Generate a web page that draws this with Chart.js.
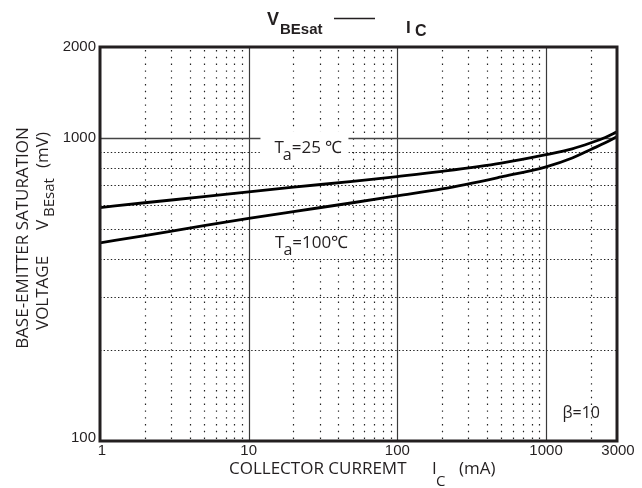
<!DOCTYPE html>
<html>
<head>
<meta charset="utf-8">
<script src="https://cdn.jsdelivr.net/npm/chart.js@4.4.1/dist/chart.umd.min.js"></script>
<style>
html, body { margin: 0; padding: 0; background: #fff; }
</style>
</head>
<body>
<canvas id="myChart" width="642" height="488"></canvas>
<script>
// collector current (mA) and VBE(sat) (mV)
const currentMA = [1, 2, 5, 10, 20, 50, 100, 200, 500, 1000, 1500, 2000, 2500, 3000];
const vbe25 = [590, 612, 641, 665, 689, 720, 747, 777, 827, 882, 922, 965, 1005, 1049];
const vbe100 = [451, 477, 514, 543, 572, 612, 645, 680, 745, 804, 860, 918, 965, 1012];

const xTicks = [1, 10, 100, 1000, 3000];
const xTickLabels = ['1', '10', '100', '1000', '3000'];
const yTicks = [2000, 1000, 100];
const yTickLabels = ['2000', '1000', '100'];

const xMajor = [10, 100, 1000];
const xMinor = [2, 3, 4, 5, 6, 7, 8, 9, 20, 30, 40, 50, 60, 70, 80, 90,
                200, 300, 400, 500, 600, 700, 800, 900, 2000];
const yMajor = [1000];
const yMinor = [200, 300, 400, 500, 600, 700, 800, 900];

function toPoints(ys){
    let pts = [];
    for (let i = 0; i < currentMA.length; i++){
        pts.push({x: currentMA[i], y: ys[i]});
    }
    return pts;
}

const ink = '#231f20';

function labelBox(ctx, x1, y1, x2, y2){
    ctx.fillStyle = '#fff';
    ctx.fillRect(x1, y1, x2 - x1, y2 - y1);
}

// "T" with subscript "a" followed by rest of text
function drawTa(ctx, x, y, rest){
    ctx.fillStyle = ink;
    ctx.textBaseline = 'alphabetic';
    ctx.textAlign = 'left';
    ctx.font = '17px "Open Sans"';
    ctx.fillText('T', x, y);
    let w = ctx.measureText('T').width;
    ctx.font = '16px "Open Sans"';
    ctx.fillText('a', x + w - 1, y + 7);
    let wa = ctx.measureText('a').width;
    ctx.font = '17px "Open Sans"';
    ctx.fillText(rest, x + w + wa - 1, y);
}

const gridPlugin = {
    id: 'gridPlugin',
    beforeDatasetsDraw(chart){
        const ctx = chart.ctx;
        const a = chart.chartArea;
        const xs = chart.scales.x;
        const ys = chart.scales.y;
        ctx.save();

        // dotted minor grid
        ctx.strokeStyle = '#222';
        ctx.lineWidth = 1.2;
        ctx.setLineDash([1.4, 5.4]);
        xMinor.forEach(v => {
            let px = Math.round(xs.getPixelForValue(v)) + 0.5;
            ctx.beginPath();
            ctx.moveTo(px, a.top + 3);
            ctx.lineTo(px, a.bottom);
            ctx.stroke();
        });
        ctx.setLineDash([1.4, 2.2]);
        yMinor.forEach(v => {
            let py = Math.round(ys.getPixelForValue(v)) + 0.5;
            ctx.beginPath();
            ctx.moveTo(a.left, py);
            ctx.lineTo(a.right, py);
            ctx.stroke();
        });

        // solid decade lines
        ctx.setLineDash([]);
        ctx.strokeStyle = '#3a3a3a';
        ctx.lineWidth = 1.2;
        xMajor.forEach(v => {
            let px = Math.round(xs.getPixelForValue(v)) + 0.5;
            ctx.beginPath();
            ctx.moveTo(px, a.top);
            ctx.lineTo(px, a.bottom);
            ctx.stroke();
        });
        ctx.lineWidth = 1.5;
        ctx.strokeStyle = '#444';
        yMajor.forEach(v => {
            let py = Math.round(ys.getPixelForValue(v)) + 0.5;
            ctx.beginPath();
            ctx.moveTo(a.left, py);
            ctx.lineTo(a.right, py);
            ctx.stroke();
        });

        // white boxes behind the curve labels
        let x25 = xs.getPixelForValue(12);
        let y25 = ys.getPixelForValue(1000);
        labelBox(ctx, x25, y25 - 7, x25 + 88, y25 + 23);
        let x100 = xs.getPixelForValue(12.5);
        let y100 = ys.getPixelForValue(500);
        labelBox(ctx, x100, y100 + 3, x100 + 95, y100 + 28);

        ctx.restore();
    },
    afterDatasetsDraw(chart){
        const ctx = chart.ctx;
        const a = chart.chartArea;
        const xs = chart.scales.x;
        const ys = chart.scales.y;
        ctx.save();

        // frame
        ctx.strokeStyle = ink;
        ctx.lineWidth = 3;
        ctx.strokeRect(a.left, a.top, a.right - a.left, a.bottom - a.top);

        // tick labels
        ctx.fillStyle = ink;
        ctx.font = '15px "Liberation Sans"';
        ctx.textAlign = 'center';
        ctx.textBaseline = 'top';
        for (let i = 0; i < xTicks.length; i++){
            let px = xs.getPixelForValue(xTicks[i]);
            if (i === 0) px += 2;
            if (i === xTicks.length - 1) px += 1;
            ctx.fillText(xTickLabels[i], px, a.bottom + 2);
        }
        ctx.textAlign = 'right';
        ctx.textBaseline = 'middle';
        for (let i = 0; i < yTicks.length; i++){
            let py = ys.getPixelForValue(yTicks[i]);
            if (yTicks[i] === 100) py -= 3;
            ctx.fillText(yTickLabels[i], a.left - 4, py);
        }

        // curve labels
        let x25 = xs.getPixelForValue(12);
        let y25 = ys.getPixelForValue(1000);
        drawTa(ctx, x25 + 14, y25 + 15, '=25 \u2103');
        let x100 = xs.getPixelForValue(12.5);
        let y100 = ys.getPixelForValue(500);
        drawTa(ctx, x100 + 12, y100 + 19, '=100\u2103');

        ctx.font = '16px "Open Sans"';
        ctx.textAlign = 'left';
        ctx.textBaseline = 'alphabetic';
        ctx.fillStyle = ink;
        ctx.fillText('\u03b2=10', xs.getPixelForValue(1250) + 2, ys.getPixelForValue(123) + 4);

        // title
        ctx.font = 'bold 18px "Liberation Sans"';
        ctx.fillText('V', 267, 25);
        ctx.font = 'bold 15px "Liberation Sans"';
        ctx.fillText('BEsat', 280, 34);
        ctx.strokeStyle = ink;
        ctx.lineWidth = 1.4;
        ctx.beginPath();
        ctx.moveTo(334, 18.5);
        ctx.lineTo(375, 18.5);
        ctx.stroke();
        ctx.font = 'bold 17px "Liberation Sans"';
        ctx.fillText('I', 406, 33);
        ctx.font = 'bold 16px "Liberation Sans"';
        ctx.fillText('C', 415, 36);

        // x axis title
        ctx.font = '17px "Open Sans"';
        ctx.fillText('COLLECTOR CURREMT', 229, 474);
        ctx.fillText('I', 432, 474);
        ctx.fillText('(mA)', 459, 474);
        ctx.font = '15px "Open Sans"';
        ctx.fillText('C', 436, 486);

        // y axis title
        ctx.save();
        ctx.translate(28, 238);
        ctx.rotate(-Math.PI / 2);
        ctx.font = '17px "Open Sans"';
        ctx.textAlign = 'center';
        ctx.fillText('BASE-EMITTER SATURATION', 0, 0);
        ctx.textAlign = 'left';
        ctx.fillText('VOLTAGE', -92, 20);
        ctx.fillText('V', 8, 20);
        ctx.font = '15px "Open Sans"';
        ctx.fillText('BEsat', 21, 26);
        ctx.font = '17px "Open Sans"';
        ctx.fillText('(mV)', 70, 20);
        ctx.restore();

        ctx.restore();
    }
};

const config = {
    type: 'line',
    data: {
        datasets: [
            {
                label: 'Ta=25C',
                data: toPoints(vbe25),
                borderColor: '#000',
                borderWidth: 2.8,
                pointRadius: 0,
                fill: false,
                cubicInterpolationMode: 'monotone'
            },
            {
                label: 'Ta=100C',
                data: toPoints(vbe100),
                borderColor: '#000',
                borderWidth: 2.8,
                pointRadius: 0,
                fill: false,
                cubicInterpolationMode: 'monotone'
            }
        ]
    },
    options: {
        responsive: false,
        animation: false,
        layout: { padding: { left: 100, right: 25, top: 47, bottom: 47 } },
        plugins: {
            legend: { display: false },
            tooltip: { enabled: false },
            title: { display: false }
        },
        scales: {
            x: { type: 'logarithmic', min: 1, max: 3000, display: false },
            y: { type: 'logarithmic', min: 100, max: 2000, display: false }
        }
    },
    plugins: [gridPlugin]
};

let myChart = document.getElementById('myChart');
new Chart(myChart, config);
</script>
</body>
</html>
